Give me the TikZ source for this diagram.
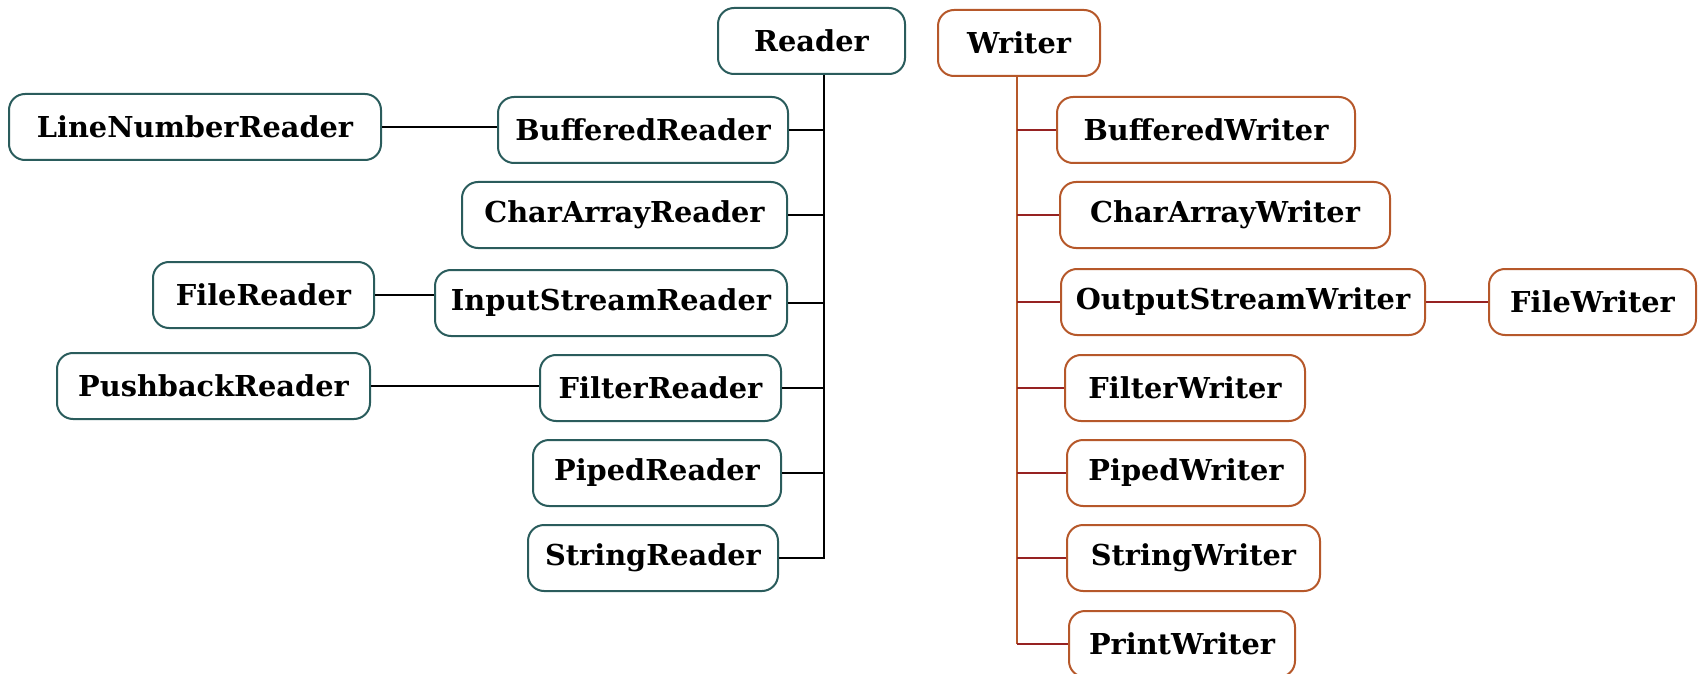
\documentclass[tikz,border=0pt]{standalone}
\usepackage{fontspec}
\setmainfont{DejaVu Serif}
\definecolor{readerc}{RGB}{42,92,92}
\definecolor{writerc}{RGB}{182,88,42}
\definecolor{writerln}{RGB}{150,34,34}
\begin{document}
\begin{tikzpicture}[x=0.5pt,y=-0.5pt,
  cls/.style={draw, rounded corners=8pt, line width=1pt, minimum height=33pt,
    inner sep=0pt, font=\fontsize{14.4}{16}\selectfont\bfseries, text=black, fill=white},
  rd/.style={cls, draw=readerc},
  wr/.style={cls, draw=writerc},
  bw/.style={minimum width=#1*0.5pt},
  rline/.style={line width=1pt, draw=black},
  wtrunk/.style={line width=1pt, draw=writerc},
  wline/.style={line width=1pt, draw=writerln},
]
\useasboundingbox (0,0) rectangle (1698,674);

% Reader hierarchy
\node[rd,bw=187] (reader) at (811.5,41) {Reader};
\node[rd,bw=372] (lnr) at (195,127) {LineNumberReader};
\node[rd,bw=290] (bufr) at (643,130) {BufferedReader};
\node[rd,bw=325] (car) at (624.5,215) {CharArrayReader};
\node[rd,bw=221] (filer) at (263.5,295) {FileReader};
\node[rd,bw=352] (isr) at (611,303) {InputStreamReader};
\node[rd,bw=313] (pbr) at (213.5,386) {PushbackReader};
\node[rd,bw=241] (filtr) at (660.5,388) {FilterReader};
\node[rd,bw=248] (piper) at (657,473) {PipedReader};
\node[rd,bw=250] (strr) at (653,558) {StringReader};

% Writer hierarchy
\node[wr,bw=162] (writer) at (1019,43) {Writer};
\node[wr,bw=298] (bufw) at (1206,130) {BufferedWriter};
\node[wr,bw=330] (caw) at (1225,215) {CharArrayWriter};
\node[wr,bw=364] (osw) at (1243,302) {OutputStreamWriter};
\node[wr,bw=207] (filew) at (1592.5,302) {FileWriter};
\node[wr,bw=240] (filtw) at (1185,388) {FilterWriter};
\node[wr,bw=238] (pipew) at (1186,473) {PipedWriter};
\node[wr,bw=253] (strw) at (1193.5,558) {StringWriter};
\node[wr,bw=226] (prw) at (1182,644) {PrintWriter};

% Reader connectors
\coordinate (rt) at (824,0);
\draw[rline] (reader.south -| rt) |- (strr.east);
\foreach \n in {bufr,car,isr,filtr,piper}
  \draw[rline] (\n.east) -- (\n.east -| rt);
\draw[rline] (lnr.east) -- (lnr.east -| bufr.west);
\draw[rline] (filer.east) -- (filer.east -| isr.west);
\draw[rline] (pbr.east) -- (pbr.east -| filtr.west);

% Writer connectors
\coordinate (wt) at (1017,0);
\draw[wtrunk] (writer.south -| wt) -- (prw.west -| wt);
\foreach \n in {bufw,caw,osw,filtw,pipew,strw,prw}
  \draw[wline] (\n.west -| wt) -- (\n.west);
\draw[wline] (osw.east) -- (filew.west);
\end{tikzpicture}
\end{document}
